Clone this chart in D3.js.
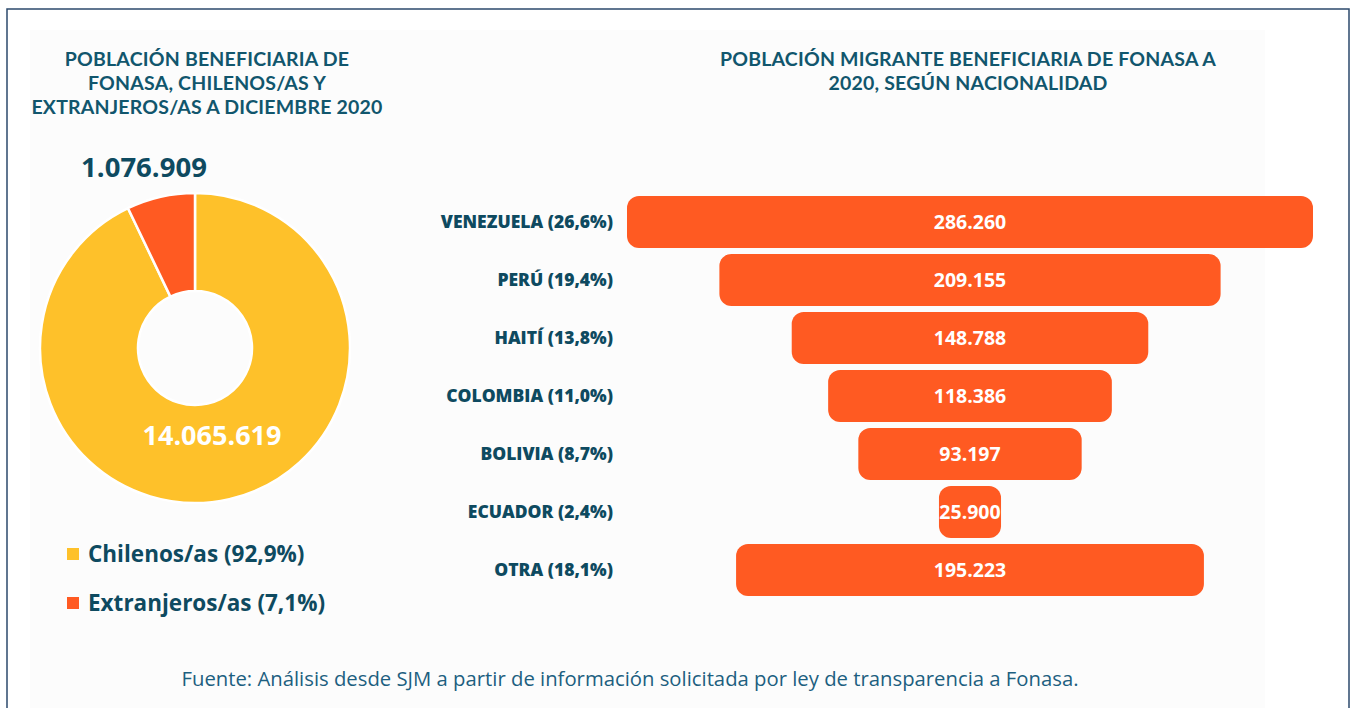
<!DOCTYPE html>
<html>
<head>
<meta charset="utf-8">
<script src="https://cdn.jsdelivr.net/npm/d3@7"></script>
<style>
  body { margin: 0; background: #fff; }
  svg { display: block; font-family: "Open Sans", sans-serif; }
</style>
</head>
<body>
<svg id="chart" width="1356" height="708"></svg>
<script>
// donut data
const pieLabels = ["Chilenos/as (92,9%)", "Extranjeros/as (7,1%)"];
const pieValues = [14065619, 1076909];
const pieColors = ["#fec12a", "#ff5a22"];

// funnel data
const countries = ["VENEZUELA (26,6%)", "PERÚ (19,4%)", "HAITÍ (13,8%)", "COLOMBIA (11,0%)",
                   "BOLIVIA (8,7%)", "ECUADOR (2,4%)", "OTRA (18,1%)"];
const migrants = [286260, 209155, 148788, 118386, 93197, 25900, 195223];

const textDark = "#0e4a60";
const titleColor = "#11566d";
const fmt = v => d3.format(",")(v).replace(/,/g, ".");

const svg = d3.select("#chart");

// frame
svg.append("rect").attr("x", 30).attr("y", 30).attr("width", 1235).attr("height", 678).attr("fill", "#fcfcfc");
svg.append("path")
    .attr("d", "M7,708 V9 H1349 V708")
    .attr("fill", "none")
    .attr("stroke", "#2d4a6c")
    .attr("stroke-width", 1.5);

// titles (Lato has a tighter line box, so lines 24px apart don't collide)
function title(lines, x) {
    svg.append("g").selectAll("text")
        .data(lines)
        .join("text")
        .attr("x", x)
        .attr("y", (d, i) => 66 + i * 24)
        .attr("text-anchor", "middle")
        .attr("font-family", "Lato, 'Open Sans', sans-serif")
        .attr("font-size", "19.5px")
        .attr("font-weight", 700)
        .attr("letter-spacing", "0.2px")
        .attr("fill", titleColor)
        .text(d => d);
}

// ---- left: donut ----
title(["POBLACIÓN BENEFICIARIA DE", "FONASA, CHILENOS/AS Y", "EXTRANJEROS/AS A DICIEMBRE 2020"], 207);

const cx = 195, cy = 348;
const outerR = 155, innerR = 57;

const pie = d3.pie().sort(null)(pieValues);
const arc = d3.arc().innerRadius(innerR).outerRadius(outerR);

const donut = svg.append("g").attr("transform", `translate(${cx},${cy})`);
donut.selectAll("path")
    .data(pie)
    .join("path")
    .attr("d", arc)
    .attr("fill", (d, i) => pieColors[i])
    .attr("stroke", "#fff")
    .attr("stroke-width", 2.5);

donut.append("text")
    .attr("x", 17)
    .attr("y", 97)
    .attr("text-anchor", "middle")
    .attr("font-size", "27px")
    .attr("font-weight", 700)
    .attr("fill", "#fff")
    .text(fmt(pieValues[0]));

svg.append("text")
    .attr("x", 144)
    .attr("y", 177)
    .attr("text-anchor", "middle")
    .attr("font-size", "27.5px")
    .attr("font-weight", 700)
    .attr("fill", textDark)
    .text(fmt(pieValues[1]));

// legend
const legend = svg.append("g").attr("transform", "translate(67,548)");
legend.selectAll("rect")
    .data(pieLabels)
    .join("rect")
    .attr("x", 0)
    .attr("y", (d, i) => i * 49)
    .attr("width", 12)
    .attr("height", 12)
    .attr("fill", (d, i) => pieColors[i]);
legend.selectAll("text")
    .data(pieLabels)
    .join("text")
    .attr("x", 21)
    .attr("y", (d, i) => i * 49 + 14)
    .attr("font-size", "22.5px")
    .attr("font-weight", 700)
    .attr("fill", textDark)
    .text(d => d);

// ---- right: funnel ----
title(["POBLACIÓN MIGRANTE BENEFICIARIA DE FONASA A", "2020, SEGÚN NACIONALIDAD"], 968);

const centerX = 970;
const w = d3.scaleLinear().domain([0, d3.max(migrants)]).range([0, 686]);
const y = d3.scaleBand().domain(countries).range([193, 599]).paddingInner(0.1).paddingOuter(0.05);

const rows = svg.append("g").selectAll("g")
    .data(countries)
    .join("g");

rows.append("rect")
    .attr("x", (d, i) => centerX - w(migrants[i]) / 2)
    .attr("y", d => y(d))
    .attr("width", (d, i) => w(migrants[i]))
    .attr("height", y.bandwidth())
    .attr("rx", 12)
    .attr("fill", "#ff5a22");

rows.append("text")
    .attr("x", centerX)
    .attr("y", d => y(d) + y.bandwidth() / 2)
    .attr("dy", "0.36em")
    .attr("text-anchor", "middle")
    .attr("font-size", "19.5px")
    .attr("font-weight", 700)
    .attr("fill", "#fff")
    .text((d, i) => fmt(migrants[i]));

rows.append("text")
    .attr("x", 613)
    .attr("y", d => y(d) + y.bandwidth() / 2)
    .attr("dy", "0.36em")
    .attr("text-anchor", "end")
    .attr("font-size", "17.5px")
    .attr("font-weight", 800)
    .attr("fill", textDark)
    .text(d => d);

// source
svg.append("text")
    .attr("x", 630)
    .attr("y", 686)
    .attr("text-anchor", "middle")
    .attr("font-size", "20.3px")
    .attr("font-weight", 400)
    .attr("fill", "#1d5f80")
    .text("Fuente: Análisis desde SJM a partir de información solicitada por ley de transparencia a Fonasa.");
</script>
</body>
</html>
